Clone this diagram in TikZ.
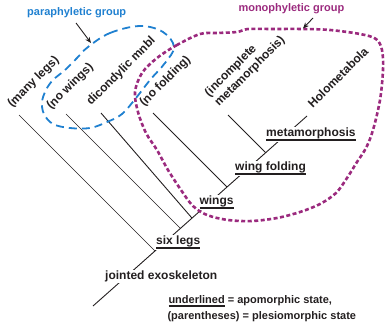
\documentclass[tikz,border=0pt]{standalone}
\usepackage{fontspec}
\setmainfont{Liberation Sans}
\usetikzlibrary{arrows.meta}
\definecolor{txt}{HTML}{231F20}
\definecolor{pblue}{HTML}{1F80D0}
\definecolor{ppurp}{HTML}{9B2A7E}
\newcommand\myuline[2]{\setbox0\hbox{#2}\rlap{\rule[-#1]{\wd0}{1.6pt}}\box0\relax}
\begin{document}
\begin{tikzpicture}[x=1pt,y=-1pt,
  lab/.style={font=\fontsize{12}{14}\selectfont\bfseries, text=txt, inner sep=0pt},
  rlab/.style={lab, rotate=45, anchor=south west},
  ulab/.style={lab, fill=white, inner sep=1pt, anchor=base west},
  leg/.style={font=\fontsize{11}{13}\selectfont\bfseries, text=txt, inner sep=0pt, anchor=base west},
  grp/.style={font=\fontsize{11}{13}\selectfont\bfseries, inner sep=0pt, anchor=base west},
  thinbr/.style={line width=0.6pt, draw=txt},
  br/.style={line width=0.9pt, draw=txt},
  para/.style={draw=pblue, line width=1.8pt, dash pattern=on 8pt off 5pt},
  mono/.style={draw=ppurp, line width=2.6pt, dash pattern=on 4pt off 2.5pt},
  arr/.style={draw=txt, line width=0.9pt, -{Stealth[length=6pt,width=5pt]}}
]
\useasboundingbox (0,0) rectangle (388,324);
% trunk and branch points
\coordinate (root) at (93,306);
\coordinate (tip) at (307,116);
\coordinate (J1) at (155,251);
\coordinate (J2) at (180.4,228.4);
\coordinate (J3) at (192,218.1);
\coordinate (J4) at (227,187);
\coordinate (J5) at (265.7,152.7);
\coordinate (T1) at (19,115);
\coordinate (T2) at (66,114);
\coordinate (T3) at (101,113);
\coordinate (T4) at (153,113);
\coordinate (T5) at (228,115);
% tree
\draw[br] (root) -- (tip);
\draw[thinbr] (T1) -- (J1);
\draw[thinbr] (T2) -- (J2);
\draw[br] (T3) -- (J3);
\draw[br] (T4) -- (J4);
\draw[br] (T5) -- (J5);
% rotated labels
\node[rlab] (n1) at (14,110) {(many legs)};
\node[rlab] (n2) at (53,112) {(no wings)};
\node[rlab] (n3) at (93,108) {dicondylic mnbl};
\node[rlab] (n4) at (146,109) {(no folding)};
\node[rlab, align=left] (n5) at (221,109) {(incomplete\\metamorphosis)};
\node[rlab] (n6) at (313,109) {Holometabola};
% character labels on trunk
\node[ulab] (je) at (104,279.3) {jointed exoskeleton};
\node[ulab] (sl) at (155,244.3) {\myuline{4.2pt}{six legs}};
\node[ulab] (wi) at (198.3,204.5) {\myuline{4.2pt}{wings}};
\node[ulab] (wf) at (234,170.7) {\myuline{4.2pt}{wing folding}};
\node[ulab] (me) at (265,136.7) {\myuline{4.2pt}{metamorphosis}};
% legend
\node[leg] (l1) at (168.3,303.3) {\myuline{3.2pt}{underlined} = apomorphic state,};
\node[leg] (l2) at (167.3,319) {(parentheses) = plesiomorphic state};
% groups
\draw[para] plot[smooth cycle, tension=0.6] coordinates {(88,47) (110,33) (140,26) (163,32) (174,47) (165,63) (150,80) (136,98) (122,114) (107,122) (90,128) (70,128) (53,124) (44,114) (42,102) (46,90) (53,80) (65,70) (77,58)};
\draw[mono] plot[smooth cycle, tension=0.55] coordinates {(200,34) (177,45) (157,58) (142,73) (135,92) (138,112) (146,133) (157,150) (168,170) (181,190) (193,206) (207,215) (228,220) (252,221) (277,218) (300,212) (320,204) (336,193) (347,178) (357,162) (366,148) (373,130) (380,100) (383,70) (382,50) (376,39) (360,34) (330,30) (303,29) (272,29) (248,29) (237,32) (217,33)};
\node[grp, text=pblue] (pg) at (27,15) {paraphyletic group};
\node[grp, text=ppurp] (mg) at (238.3,12) {monophyletic group};
\coordinate (pa1) at (76,23);
\coordinate (pa2) at (91,43);
\coordinate (ma1) at (313,18);
\coordinate (ma2) at (303,28.5);
\draw[arr] (pa1) -- (pa2);
\draw[arr] (ma1) -- (ma2);
\end{tikzpicture}
\end{document}
